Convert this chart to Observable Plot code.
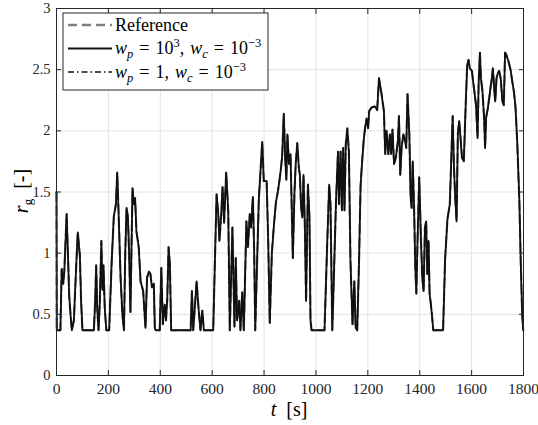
<!DOCTYPE html>
<html>
<head>
<meta charset="utf-8">
<script src="https://cdn.jsdelivr.net/npm/d3@7"></script>
<script src="https://cdn.jsdelivr.net/npm/@observablehq/plot@0.6"></script>
<style>
  html, body { margin: 0; padding: 0; background: #fff; }
  #chart { width: 538px; height: 425px; }
</style>
</head>
<body>
<div id="chart"></div>
<script>
// ---- data ----
const xTicks = [0, 200, 400, 600, 800, 1000, 1200, 1400, 1600, 1800];
const yTicks = [0, 0.5, 1, 1.5, 2, 2.5, 3];
const xTickLabels = ["0", "200", "400", "600", "800", "1000", "1200", "1400", "1600", "1800"];
const yTickLabels = ["0", "0.5", "1", "1.5", "2", "2.5", "3"];

const timeS = [
  0, 1, 15, 20, 26, 30, 33, 39, 44, 49, 54, 59, 67, 75, 82, 90, 95, 100, 144, 149,
  153, 157, 162, 167, 173, 177, 181, 186, 192, 203, 213, 221, 229, 234, 239, 247, 254, 260, 265, 270,
  275, 280, 285, 293, 298, 303, 308, 317, 324, 334, 343, 349, 356, 362, 368, 375, 379, 382, 398, 404,
  410, 417, 422, 427, 432, 437, 442, 517, 522, 527, 540, 547, 555, 562, 568, 604, 617, 623, 628, 635,
  640, 646, 654, 662, 668, 678, 686, 691, 696, 704, 709, 716, 722, 732, 738, 745, 750, 757, 762, 766,
  780, 793, 799, 810, 816, 822, 830, 838, 846, 853, 861, 866, 870, 876, 882, 886, 890, 896, 902, 911,
  917, 922, 928, 934, 938, 943, 948, 952, 957, 962, 969, 975, 979, 983, 1033, 1043, 1051, 1056, 1063, 1069,
  1077, 1085, 1089, 1095, 1100, 1105, 1110, 1115, 1121, 1127, 1133, 1141, 1148, 1153, 1159, 1166, 1172, 1178, 1184, 1189,
  1195, 1201, 1205, 1214, 1227, 1236, 1243, 1253, 1262, 1267, 1272, 1279, 1285, 1290, 1295, 1301, 1308, 1316, 1320, 1325,
  1330, 1337, 1344, 1348, 1353, 1360, 1365, 1369, 1373, 1378, 1383, 1387, 1391, 1398, 1405, 1410, 1415, 1420, 1425, 1429,
  1434, 1438, 1442, 1447, 1452, 1490, 1498, 1507, 1516, 1521, 1527, 1532, 1537, 1542, 1547, 1552, 1557, 1563, 1570, 1577,
  1583, 1588, 1593, 1601, 1609, 1617, 1623, 1627, 1632, 1636, 1642, 1648, 1652, 1656, 1663, 1671, 1678, 1682, 1687, 1691,
  1696, 1701, 1706, 1712, 1719, 1724, 1729, 1734, 1742, 1750, 1757, 1763, 1769, 1776, 1784, 1789, 1795, 1799
];

const rgReference = [
  1.50, 0.37, 0.37, 0.87, 0.75, 0.85, 1.00, 1.32, 1.00, 0.65, 0.50, 0.37, 0.45, 0.85, 1.17, 0.98, 0.60, 0.37, 0.37, 0.60,
  0.90, 0.55, 0.37, 0.60, 1.10, 0.70, 0.90, 0.55, 0.37, 0.37, 0.95, 1.30, 1.40, 1.66, 1.35, 0.80, 0.50, 0.37, 1.00, 1.37,
  1.30, 1.00, 0.52, 1.53, 1.40, 1.45, 1.18, 1.05, 0.77, 0.69, 0.39, 0.80, 0.85, 0.83, 0.72, 0.75, 0.39, 0.37, 0.37, 0.88,
  0.42, 0.58, 0.45, 0.63, 1.05, 0.91, 0.37, 0.37, 0.69, 0.37, 0.77, 0.56, 0.37, 0.53, 0.37, 0.37, 1.48, 1.34, 1.10, 1.32,
  1.54, 1.25, 1.66, 1.34, 0.37, 1.21, 0.40, 0.96, 0.45, 0.61, 0.37, 0.68, 0.37, 1.26, 1.05, 1.32, 1.21, 1.46, 1.00, 0.37,
  1.45, 1.91, 1.59, 1.59, 1.10, 0.43, 1.00, 1.23, 1.42, 1.50, 1.62, 1.71, 1.80, 2.14, 1.75, 1.60, 1.97, 1.73, 1.81, 0.96,
  1.48, 1.73, 1.90, 1.70, 1.64, 1.37, 1.29, 1.64, 1.25, 0.61, 1.56, 1.30, 0.45, 0.37, 0.37, 1.05, 1.56, 1.40, 0.37, 0.80,
  1.40, 1.83, 1.40, 1.83, 1.35, 1.86, 1.35, 1.89, 2.02, 1.83, 0.94, 0.42, 0.77, 0.39, 0.37, 0.92, 1.55, 1.75, 1.92, 2.02,
  2.10, 2.02, 2.16, 2.19, 2.20, 2.17, 2.43, 2.30, 2.16, 1.81, 2.00, 1.81, 1.97, 1.81, 2.01, 1.73, 1.78, 1.92, 2.12, 1.64,
  1.86, 1.97, 1.92, 1.86, 2.30, 1.97, 1.45, 1.37, 1.75, 1.40, 0.88, 0.67, 1.05, 1.62, 1.10, 0.80, 0.69, 1.21, 1.26, 0.83,
  1.10, 0.67, 0.60, 0.50, 0.37, 0.37, 0.96, 1.28, 1.40, 1.73, 2.12, 1.70, 1.45, 1.26, 1.98, 2.08, 1.95, 1.78, 1.75, 2.20,
  2.54, 2.58, 2.51, 2.49, 2.35, 2.21, 1.94, 2.38, 2.64, 2.43, 2.32, 2.11, 1.86, 2.11, 2.19, 2.32, 2.43, 2.51, 2.35, 2.24,
  2.43, 2.47, 2.49, 2.43, 2.24, 2.21, 2.64, 2.62, 2.57, 2.50, 2.40, 2.32, 2.20, 1.90, 1.43, 0.96, 0.50, 0.37
];
// the two controller results lie on top of the reference in the picture
const rgWp1e3 = rgReference;
const rgWp1 = rgReference;

const seriesNames = ["Reference", "wp=1e3", "wp=1"];

// ---- build table ----
const rows = timeS.map((t, i) => ({ t, ref: rgReference[i], a: rgWp1e3[i], b: rgWp1[i] }));

const font = "'Liberation Serif', 'DejaVu Serif', serif";

const svg = Plot.plot({
  width: 538,
  height: 425,
  marginLeft: 56,
  marginRight: 15,
  marginTop: 8,
  marginBottom: 50,
  style: { fontFamily: font, fontSize: "15px", background: "#fff", color: "#262626" },
  x: { domain: [0, 1800] },
  y: { domain: [0, 3] },
  marks: [
    Plot.gridX(xTicks, { stroke: "#e3e3e3", strokeOpacity: 1 }),
    Plot.gridY(yTicks, { stroke: "#e3e3e3", strokeOpacity: 1 }),
    Plot.line(rows, { x: "t", y: "ref", stroke: "#808080", strokeWidth: 2.2, strokeDasharray: "9,5" }),
    Plot.line(rows, { x: "t", y: "a", stroke: "#111", strokeWidth: 1.8 }),
    Plot.line(rows, { x: "t", y: "b", stroke: "#111", strokeWidth: 1.1, strokeDasharray: "7,3,1.5,3" }),
    Plot.frame({ stroke: "#262626", strokeWidth: 1 }),
    Plot.axisX(xTicks, { anchor: "bottom", tickSize: 0, tickPadding: 7, fontSize: "15.5px", label: null,
      tickFormat: (d) => xTickLabels[xTicks.indexOf(d)] }),
    Plot.axisY(yTicks, { anchor: "left", tickSize: 0, tickPadding: 6, fontSize: "14.5px", label: null,
      tickFormat: (d) => yTickLabels[yTicks.indexOf(d)] }),
    Plot.axisX(xTicks, { anchor: "bottom", tickSize: -5, tickFormat: () => "", label: null }),
    Plot.axisX(xTicks, { anchor: "top", tickSize: -5, tickFormat: () => "", label: null }),
    Plot.axisY(yTicks, { anchor: "left", tickSize: -5, tickFormat: () => "", label: null }),
    Plot.axisY(yTicks, { anchor: "right", tickSize: -5, tickFormat: () => "", label: null })
  ]
});

const s = d3.select(svg);
s.selectAll("text").style("font-family", font).attr("fill", "#262626");

// x label
const xl = s.append("text")
  .attr("x", 289).attr("y", 416)
  .attr("text-anchor", "middle")
  .style("font-family", font).style("font-size", "20px").attr("fill", "#000");
xl.append("tspan").style("font-style", "italic").text("t");
xl.append("tspan").text("\u2002[s]");

// y label
const yl = s.append("text")
  .attr("transform", "translate(28,191) rotate(-90)")
  .attr("text-anchor", "middle")
  .style("font-family", font).style("font-size", "20px").attr("fill", "#000");
yl.append("tspan").style("font-style", "italic").text("r");
yl.append("tspan").attr("dy", 4).style("font-size", "13px").text("g");
yl.append("tspan").attr("dy", -4).text("\u2002[-]");

// legend
const lg = s.append("g").style("font-family", font).style("font-size", "18px").attr("text-anchor", "start");
lg.append("rect").attr("x", 63).attr("y", 13).attr("width", 205).attr("height", 77)
  .attr("fill", "#fff").attr("stroke", "#262626").attr("stroke-width", 1);
const rowY = [25, 48.5, 72];
const styles = [
  { stroke: "#808080", w: 2.4, dash: "9,5" },
  { stroke: "#111", w: 1.8, dash: null },
  { stroke: "#111", w: 1.5, dash: "6,3,1.5,3" }
];
styles.forEach((st, i) => {
  const l = lg.append("line").attr("x1", 68).attr("x2", 112).attr("y1", rowY[i]).attr("y2", rowY[i])
    .attr("stroke", st.stroke).attr("stroke-width", st.w);
  if (st.dash) l.attr("stroke-dasharray", st.dash);
});
lg.append("text").attr("x", 115).attr("y", rowY[0] + 6).attr("text-anchor", "start")
  .attr("fill", "#000").text(seriesNames[0]);

function mathRow(y, exp1) {
  const t = lg.append("text").attr("x", 115).attr("y", y + 5.5).attr("text-anchor", "start").attr("fill", "#000");
  t.append("tspan").style("font-style", "italic").text("w");
  t.append("tspan").attr("dy", 4).style("font-size", "12.5px").style("font-style", "italic").text("p");
  t.append("tspan").attr("dy", -4).text("\u2004=\u2004");
  if (exp1) {
    t.append("tspan").text("10");
    t.append("tspan").attr("dy", -7).style("font-size", "12.5px").text("3");
    t.append("tspan").attr("dy", 7).text(",\u2004");
  } else {
    t.append("tspan").text("1,\u2004");
  }
  t.append("tspan").style("font-style", "italic").text("w");
  t.append("tspan").attr("dy", 4).style("font-size", "12.5px").style("font-style", "italic").text("c");
  t.append("tspan").attr("dy", -4).text("\u2004=\u200410");
  t.append("tspan").attr("dy", -7).style("font-size", "12.5px").text("\u22123");
}
mathRow(rowY[1], true);
mathRow(rowY[2], false);

document.getElementById("chart").appendChild(svg);
</script>
</body>
</html>
